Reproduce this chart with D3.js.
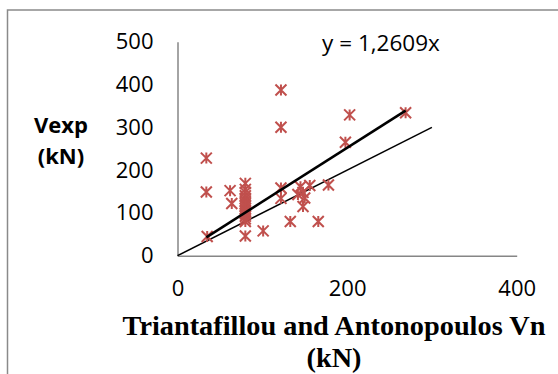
<!DOCTYPE html>
<html>
<head>
<meta charset="utf-8">
<script src="https://cdn.jsdelivr.net/npm/d3@7"></script>
<style>
  html, body { margin: 0; padding: 0; background: #fff; }
  svg { display: block; }
</style>
</head>
<body>
<svg id="chart" width="558" height="374"></svg>
<script>
// ---- data ----
const xValues = [34, 34, 35, 62, 64,
  80, 80, 80, 80, 80, 80, 80, 80, 80, 80, 80, 80, 80, 80, 80,
  101, 122, 122, 122, 122, 133, 145, 142, 148, 150, 156, 148, 166, 178, 198, 203, 269];
const yValues = [228, 149, 45, 152, 122,
  169, 155, 148, 140, 134, 128, 122, 116, 110, 104, 98, 92, 86, 80, 46,
  58, 387, 300, 158, 134, 80, 161, 143, 148, 135, 164, 115, 80, 165, 265, 329, 334];
const trendSlope = 1.2609;
const equalityLine = [0, 300];
const xTicks = [0, 200, 400];
const yTicks = [0, 100, 200, 300, 400, 500];
const equationLabel = "y = 1,2609x";
const yTitle = ["Vexp", "(kN)"];
const xTitle = ["Triantafillou and Antonopoulos Vn", "(kN)"];

// ---- layout ----
const svg = d3.select("#chart");
const x = d3.scaleLinear().domain([0, 400]).range([177.5, 516.7]);
const y = d3.scaleLinear().domain([0, 500]).range([255.7, 41.7]);

// outer frame
svg.append("path")
  .attr("d", "M7.5,374 L7.5,10 L558,10")
  .attr("fill", "none").attr("stroke", "#8a8a8a").attr("stroke-width", 1.5);

const tickFont = "'Open Sans', sans-serif";

const yAxis = svg.append("g").attr("transform", `translate(${x(0)},0)`)
  .call(d3.axisLeft(y).tickValues(yTicks).tickSize(0).tickPadding(24).tickFormat(d3.format("d")));
const xAxis = svg.append("g").attr("transform", `translate(0,${y(0)})`)
  .call(d3.axisBottom(x).tickValues(xTicks).tickSize(0).tickPadding(25).tickFormat(d3.format("d")));
[yAxis, xAxis].forEach(g => {
  g.select(".domain").attr("stroke", "#868686").attr("stroke-width", 1.5);
  g.selectAll("text").attr("font-family", tickFont).attr("font-size", 22).attr("fill", "#000");
});

// y = x reference line
svg.append("line")
  .attr("x1", x(equalityLine[0])).attr("y1", y(equalityLine[0]))
  .attr("x2", x(equalityLine[1])).attr("y2", y(equalityLine[1]))
  .attr("stroke", "#000").attr("stroke-width", 1.5);

// markers
const s = 5.5;
const starPath = `M${-s},${-s}L${s},${s}M${-s},${s}L${s},${-s}M0,${-s}L0,${s}`;
const pts = xValues.map((v, i) => [v, yValues[i]]);
svg.append("g").selectAll("path").data(pts).join("path")
  .attr("transform", d => `translate(${x(d[0])},${y(d[1])})`)
  .attr("d", starPath)
  .attr("fill", "none").attr("stroke", "#C0504D").attr("stroke-width", 2);

// trendline
const xMin = d3.min(xValues), xMax = d3.max(xValues);
svg.append("line")
  .attr("x1", x(xMin)).attr("y1", y(trendSlope * xMin))
  .attr("x2", x(xMax)).attr("y2", y(trendSlope * xMax))
  .attr("stroke", "#000").attr("stroke-width", 2.6);

// equation label
svg.append("text").attr("x", 381).attr("y", 51)
  .attr("text-anchor", "middle").attr("font-family", tickFont).attr("font-size", 22.5)
  .text(equationLabel);

// y title
svg.append("g").selectAll("text").data(yTitle).join("text")
  .attr("x", 61).attr("y", (d, i) => 133 + i * 31)
  .attr("text-anchor", "middle").attr("font-family", tickFont).attr("font-weight", "bold")
  .attr("font-size", 22).text(d => d);

// x title
svg.append("g").selectAll("text").data(xTitle).join("text")
  .attr("x", 334).attr("y", (d, i) => 335 + i * 32)
  .attr("text-anchor", "middle").attr("font-family", "'Liberation Serif', 'Times New Roman', serif")
  .attr("font-weight", "bold").attr("font-size", 28.3).text(d => d);
</script>
</body>
</html>
